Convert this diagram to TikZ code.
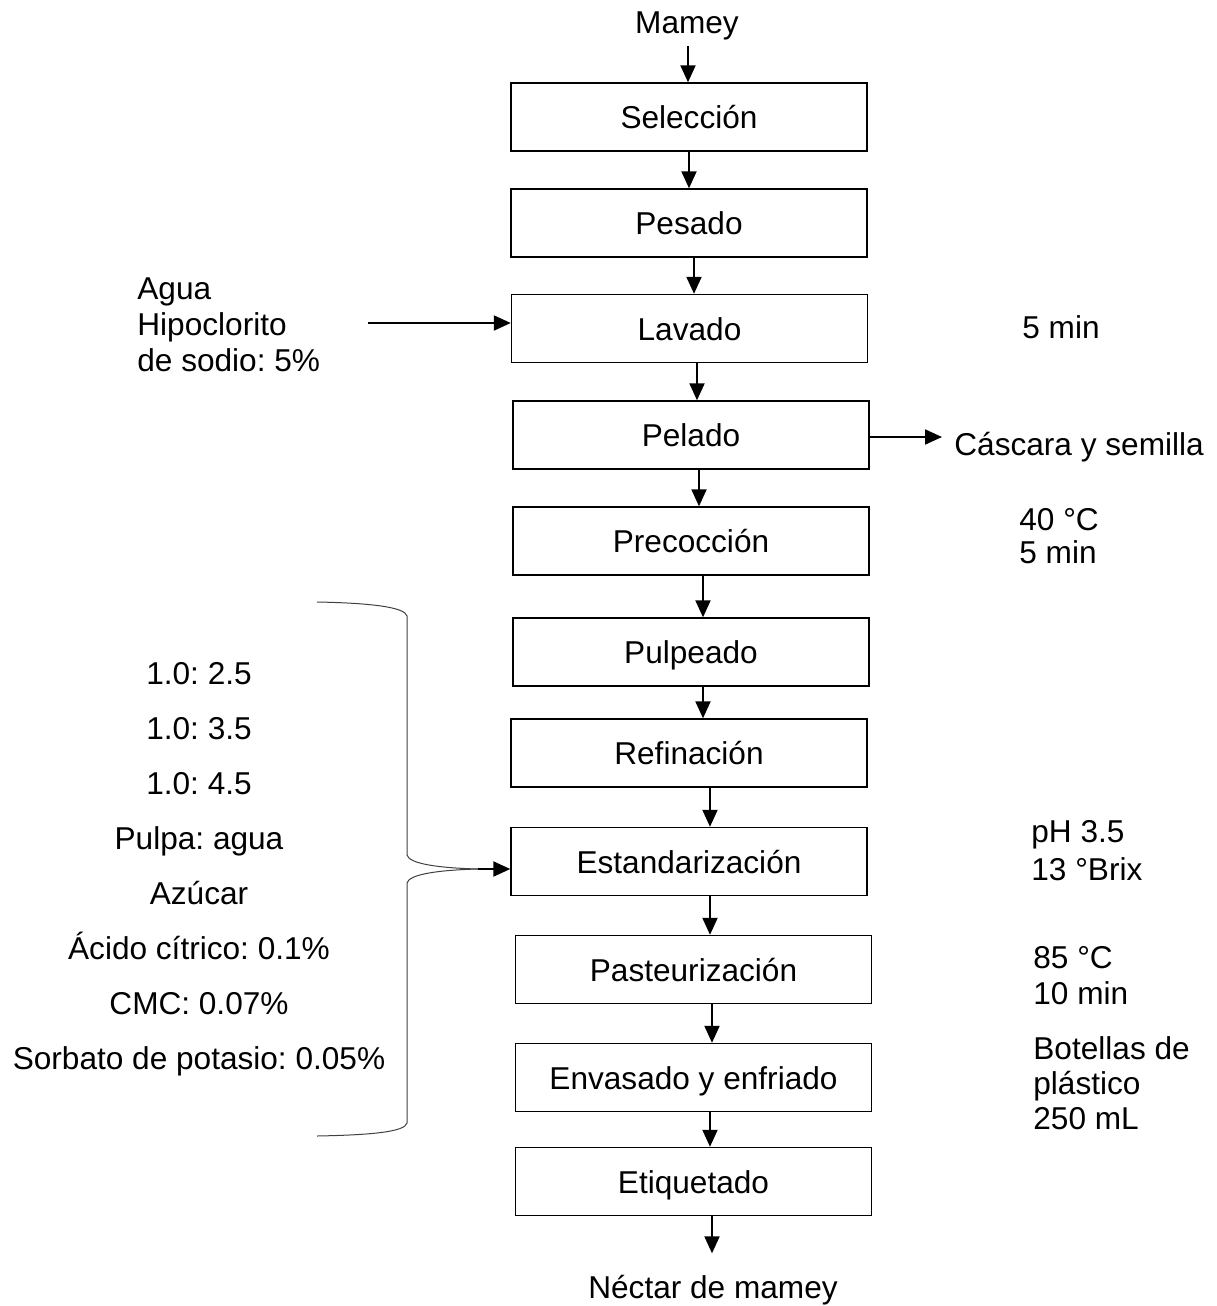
\documentclass[tikz,border=0pt]{standalone}
\usepackage{fontspec}
\setmainfont{Liberation Sans}
\usetikzlibrary{arrows.meta}
\frenchspacing
\begin{document}
\begin{tikzpicture}[x=0.5pt,y=-0.5pt,
  font=\fontsize{15.8}{18}\selectfont,
  every node/.append style={inner sep=0pt},
  etapa/.style={draw,line width=0.7pt,minimum width=178pt,minimum height=34pt,text height=11.5pt,text depth=0pt},
  flecha/.style={line width=1pt,-{Triangle[length=8.5pt,width=7.5pt]}},
  llave/.style={line width=0.5pt,black!75},
  nota/.style={align=left,anchor=north west}]
\useasboundingbox (0,0) rectangle (1216,1306);
\foreach \nombre/\x/\y/\texto in {sel/689/117/Selección, pes/689/223/Pesado, lav/689.5/328.5/Lavado, pel/691/435/Pelado, pre/691/541/Precocción, pul/691/652/Pulpeado, ref/689/753/Refinación, est/689/861.5/Estandarización, pas/693.5/969.5/Pasteurización, env/693.5/1077.5/Envasado y enfriado, eti/693.5/1181.5/Etiquetado}
  \node[etapa] (\nombre) at (\x,\y) {\texto};
\foreach \a/\b/\x in {sel/pes/689, pes/lav/694, lav/pel/697, pel/pre/699, pre/pul/703, pul/ref/703, ref/est/710, est/pas/710, pas/env/712, env/eti/710}
  \draw[flecha] (\a.south -| \x,0) -- (\b.north -| \x,0);

\node[anchor=base] (mamey) at (687,33) {Mamey};
\draw[flecha] (mamey.south -| 688,0) ++(0,6) -- (sel.north -| 688,0);
\node[anchor=base] (nectar) at (713,1298) {Néctar de mamey};
\draw[flecha,shorten >=10.5pt] (eti.south -| 712,0) -- (nectar.north -| 712,0);

\node[nota] (agua) at (137,277) {Agua\\Hipoclorito\\de sodio: 5\%};
\coordinate (agua_sal) at (368,323);
\draw[flecha] (agua_sal) -- (lav.west |- agua_sal);

\node[anchor=base west] (cascara) at (954,455) {Cáscara y semilla};
\draw[flecha,shorten >=6pt] (pel.east |- 0,437) -- (cascara.west |- 0,437);

\node[anchor=base west] (t_lav) at (1022,338) {5 min};
\node[nota] (t_pre) at (1019,508) {40 °C\\[-1.5pt]5 min};
\node[nota] (t_est) at (1031,820) {pH 3.5\\[1pt]13 °Brix};
\node[nota] (t_pas) at (1033,946) {85 °C\\10 min};
\node[nota] (t_env) at (1033,1036) {Botellas de\\[-0.5pt]plástico\\[-0.5pt]250 mL};

% mezcla para estandarizar
\node[align=center,anchor=north,font=\fontsize{15.8}{27.5}\selectfont] (mezcla) at (199,662) {1.0: 2.5\\1.0: 3.5\\1.0: 4.5\\Pulpa: agua\\Azúcar\\Ácido cítrico: 0.1\%\\CMC: 0.07\%\\Sorbato de potasio: 0.05\%};
\coordinate (pico) at (478,869);
\draw[llave] (317,602) .. controls (370,603) and (405,607) .. (407,616) -- (407,855) .. controls (409,864) and (440,868) .. (pico);
\draw[llave] (pico) .. controls (440,870) and (409,874) .. (407,883) -- (407,1123) .. controls (405,1132) and (370,1135) .. (317,1136);
\draw[flecha] (pico) -- (est.west |- pico);
\end{tikzpicture}
\end{document}
